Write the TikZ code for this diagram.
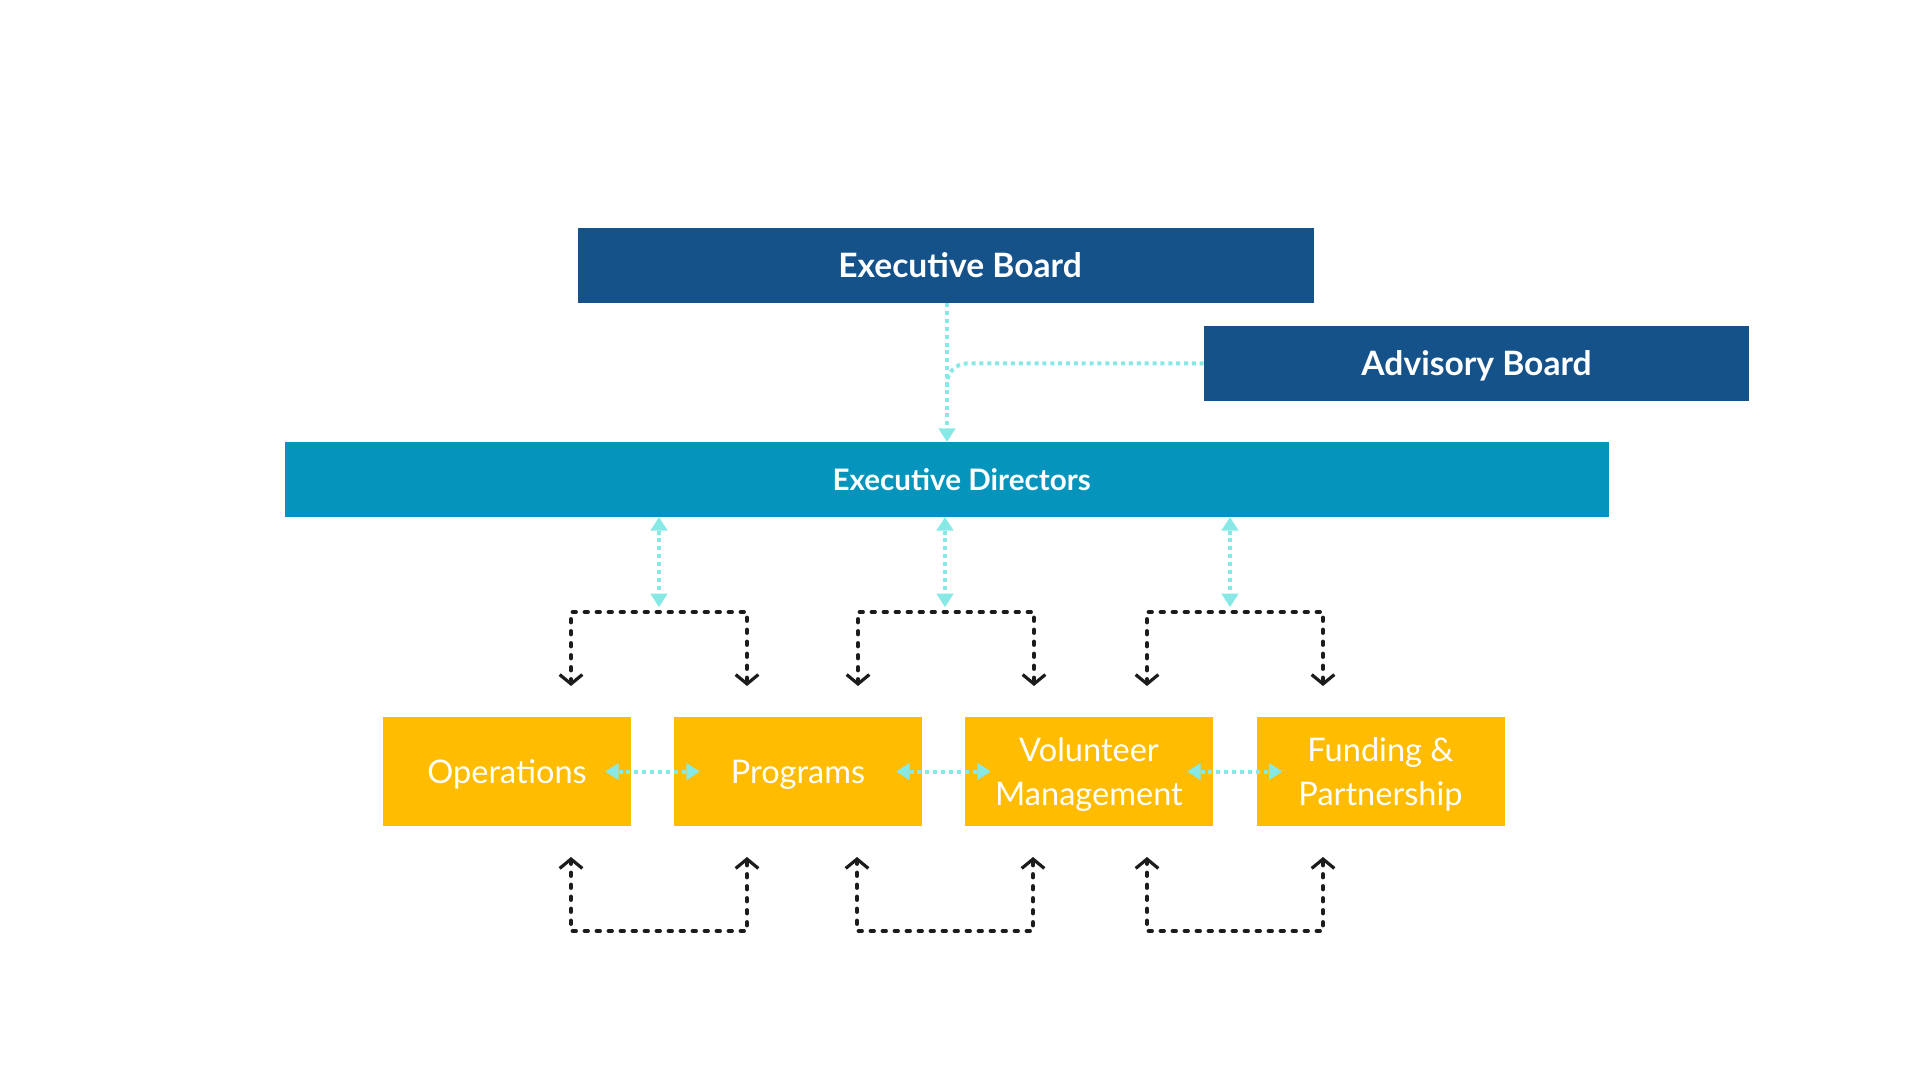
\documentclass[tikz,border=0pt]{standalone}
\usepackage{fontspec}
\setmainfont{Lato}
\usetikzlibrary{arrows.meta,calc}
\definecolor{cnavy}{RGB}{21,82,137}
\definecolor{cdir}{RGB}{5,149,188}
\definecolor{cgold}{RGB}{255,188,0}
\definecolor{caqua}{RGB}{134,233,230}
\definecolor{cink}{RGB}{28,28,28}
\begin{document}
\begin{tikzpicture}[x=0.75pt,y=-0.75pt,
  headbox/.style={fill=cnavy, inner sep=0pt, text=white, minimum height=56.25pt,
    font=\bfseries\fontsize{25.2}{30}\selectfont, text height=18pt, text depth=0pt},
  dirbox/.style={fill=cdir, inner sep=0pt, text=white, minimum height=56.25pt,
    font=\bfseries\fontsize{22.2}{26}\selectfont, text height=15.9pt, text depth=0pt},
  unitbox/.style={fill=cgold, inner sep=0pt, text=white, minimum width=186pt, minimum height=81.75pt,
    align=center, font=\fontsize{24.4}{33}\selectfont, text height=17.5pt, text depth=0pt},
  twoline/.style={text height=50.5pt, text depth=0pt},
  cy/.style={draw=caqua, line width=3pt, dash pattern=on 3pt off 2.9pt},
  cytip/.style={-{Triangle[length=10pt,width=13pt,line width=0pt]}},
  cyboth/.style={{Triangle[length=10pt,width=13pt,line width=0pt]}-{Triangle[length=10pt,width=13pt,line width=0pt]}},
  blk/.style={draw=cink, line width=3.1pt, line cap=round, dash pattern=on 2.4pt off 6.6pt},
  blkboth/.style={{Straight Barb[length=7pt,width=17pt,line width=2.4pt]}-{Straight Barb[length=7pt,width=17pt,line width=2.4pt]}}
]
\fill[white] (0,0) rectangle (1920,1080);
\useasboundingbox (0,0) rectangle (1920,1080);

% boxes
\node[headbox, minimum width=552pt] (eb) at (946,265.5) {\hspace*{21pt}Executive Board};
\node[headbox, minimum width=408.75pt] (adv) at (1476.5,363.5) {Advisory Board};
\node[dirbox, minimum width=993pt] (ed) at (947,479.5) {\hspace*{22pt}Executive Directors};

\node[unitbox] (ops) at (507,771.5) {Operations};
\node[unitbox] (prog) at (798,771.5) {Programs};
\node[unitbox, twoline] (vol) at (1089,771.5) {Volunteer\\Management};
\node[unitbox, twoline] (fund) at (1380.5,771.5) {Funding \&\\Partnership};

% top connectors
\coordinate (m) at (947,0);
\draw[cy, cytip] (eb.south -| m) -- (ed.north -| m);
\draw[cy, rounded corners=15pt] (adv.west) -- (m |- adv.west) -- ($(m |- adv.west)+(0,25)$);

% directors to brackets
\coordinate (t1) at (659,607);
\coordinate (t2) at (945,607);
\coordinate (t3) at (1230,607);
\draw[cy, cyboth] (ed.south -| t1) -- (t1);
\draw[cy, cyboth] (ed.south -| t2) -- (t2);
\draw[cy, cyboth] (ed.south -| t3) -- (t3);

% top brackets
\coordinate (a1) at (571,686); \coordinate (b1) at (747,686);
\coordinate (a2) at (858,686); \coordinate (b2) at (1034,686);
\coordinate (a3) at (1147,686); \coordinate (b3) at (1323,686);
\draw[blk, blkboth] (a1) -- ++(0,-74) -| (b1);
\draw[blk, blkboth] (a2) -- ++(0,-74) -| (b2);
\draw[blk, blkboth] (a3) -- ++(0,-74) -| (b3);

% bottom brackets
\coordinate (c1) at (571,857); \coordinate (d1) at (747,857);
\coordinate (c2) at (857,857); \coordinate (d2) at (1033,857);
\coordinate (c3) at (1147,857); \coordinate (d3) at (1323,857);
\draw[blk, blkboth] (c1) -- ++(0,74) -| (d1);
\draw[blk, blkboth] (c2) -- ++(0,74) -| (d2);
\draw[blk, blkboth] (c3) -- ++(0,74) -| (d3);

% horizontal links between units
\draw[cy, cyboth, shorten <=-19.5pt, shorten >=-19.5pt] (ops.east) -- (prog.west);
\draw[cy, cyboth, shorten <=-19.5pt, shorten >=-19.5pt] (prog.east) -- (vol.west);
\draw[cy, cyboth, shorten <=-19.5pt, shorten >=-19.5pt] (vol.east) -- (fund.west);
\end{tikzpicture}
\end{document}
